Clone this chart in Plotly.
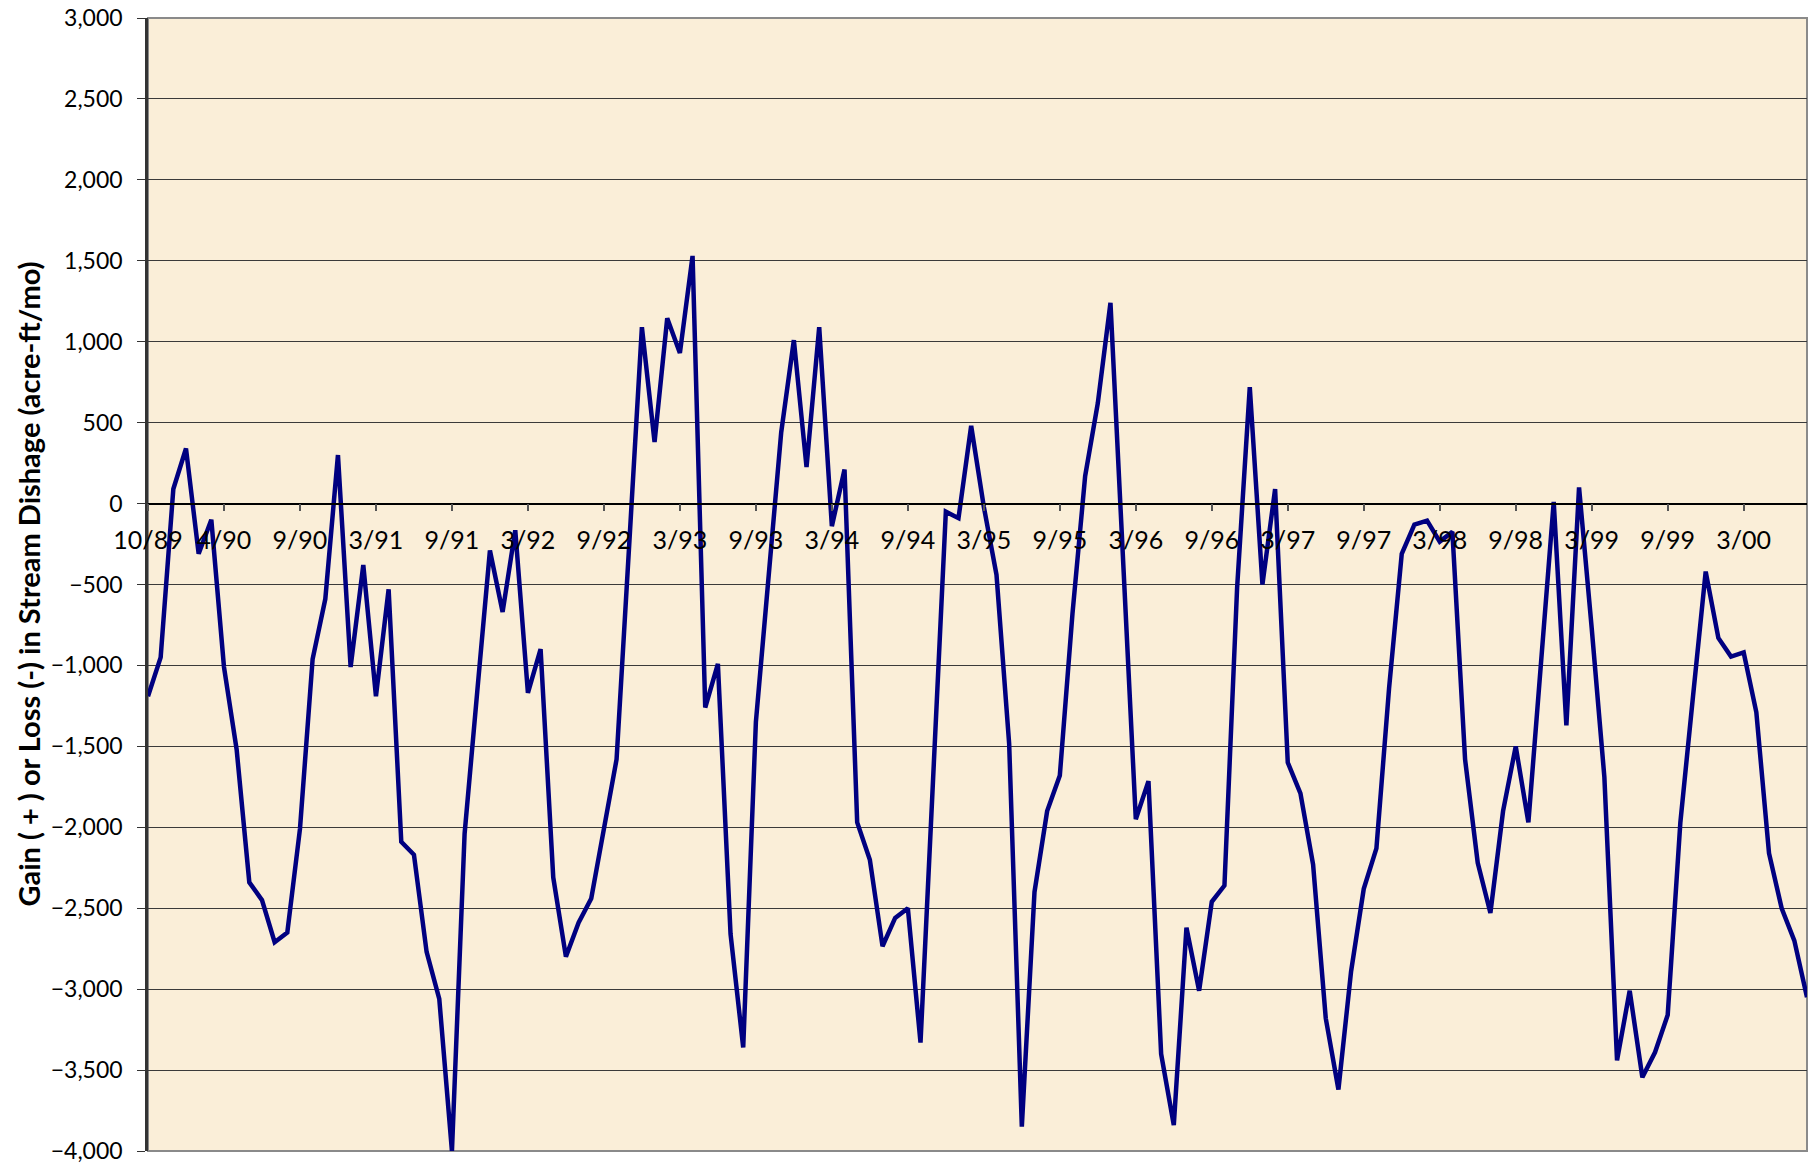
import plotly.graph_objects as go

# Monthly gain (+) or loss (-) in stream discharge, Oct 1989 onward (acre-ft/mo)
discharge = [
    -1190, -950, 90, 340, -310, -100, -1010, -1520, -2340, -2450, -2710, -2650,
    -2010, -960, -590, 300, -1010, -380, -1190, -530, -2090, -2170, -2770, -3060,
    -4000, -2040, -1160, -290, -670, -165, -1170, -900, -2310, -2800, -2590, -2440,
    -2010, -1580, -250, 1090, 380, 1145, 930, 1530, -1260, -990, -2660, -3360,
    -1350, -420, 440, 1010, 225, 1090, -140, 210, -1970, -2200, -2735, -2560,
    -2500, -3330, -1690, -50, -90, 480, -20, -440, -1485, -3850, -2400, -1900,
    -1680, -680, 170, 620, 1240, -400, -1950, -1715, -3400, -3840, -2620, -3010,
    -2460, -2360, -520, 720, -500, 90, -1600, -1790, -2230, -3180, -3620, -2890,
    -2380, -2130, -1140, -310, -130, -105, -235, -175, -1580, -2220, -2530, -1900,
    -1500, -1970, -960, 10, -1370, 100, -770, -1690, -3440, -3010, -3545, -3390,
    -3160, -1970, -1190, -420, -830, -945, -920, -1290, -2160, -2500, -2700, -3050,
]

# Date labels shown every sixth month
tick_labels = [
    "10/89", "4/90", "9/90", "3/91", "9/91", "3/92", "9/92", "3/93", "9/93",
    "3/94", "9/94", "3/95", "9/95", "3/96", "9/96", "3/97", "9/97", "3/98",
    "9/98", "3/99", "9/99", "3/00",
]
label_step = 6

month_index = list(range(len(discharge)))
tick_positions = [i * label_step for i in range(len(tick_labels))]

y_min, y_max = -4000, 3000
FONT = "Lato, 'Open Sans', sans-serif"

fig = go.Figure()
fig.add_trace(go.Scatter(
    x=month_index,
    y=discharge,
    mode="lines",
    line=dict(color="#000080", width=4.5),
    hoverinfo="x+y",
    showlegend=False,
))

# Plot-area frame (top / right / bottom edges in grey)
fig.add_shape(type="rect", xref="paper", yref="paper", x0=0, y0=0, x1=1, y1=1,
              line=dict(color="#8a8a8a", width=2), layer="below")

fig.update_layout(
    width=1810,
    height=1167,
    margin=dict(l=148, r=3, t=18, b=16),
    paper_bgcolor="white",
    plot_bgcolor="#FAEED8",
    font=dict(family=FONT, color="black", size=20),
    xaxis=dict(
        range=[0, len(discharge) - 1],
        tickmode="array",
        tickvals=tick_positions,
        ticktext=tick_labels,
        anchor="free",
        position=(0 - y_min) / (y_max - y_min),
        showline=True,
        linecolor="black",
        linewidth=1.5,
        ticks="outside",
        ticklen=7,
        tickwidth=1.5,
        tickcolor="#555",
        ticklabelstandoff=8,
        showgrid=False,
        zeroline=False,
        tickfont=dict(family=FONT, size=25, color="black"),
    ),
    yaxis=dict(
        range=[y_min, y_max],
        dtick=500,
        tickformat=",",
        showgrid=True,
        gridcolor="#3a3a3a",
        gridwidth=1,
        zeroline=False,
        showline=True,
        linecolor="#333",
        linewidth=2.5,
        ticks="outside",
        ticklen=8,
        tickwidth=1,
        tickcolor="#333",
        ticklabelstandoff=10,
        tickfont=dict(family=FONT, size=23, color="black"),
    ),
    annotations=[dict(
        text="<b>Gain ( + ) or Loss (-) in Stream Dishage (acre-ft/mo)</b>",
        xref="paper", yref="paper",
        x=(28 - 148) / (1810 - 148 - 3), y=0.5,
        xanchor="center", yanchor="middle",
        textangle=-90,
        showarrow=False,
        font=dict(family=FONT, size=29, color="black"),
    )],
)

fig.write_html("out.html")
